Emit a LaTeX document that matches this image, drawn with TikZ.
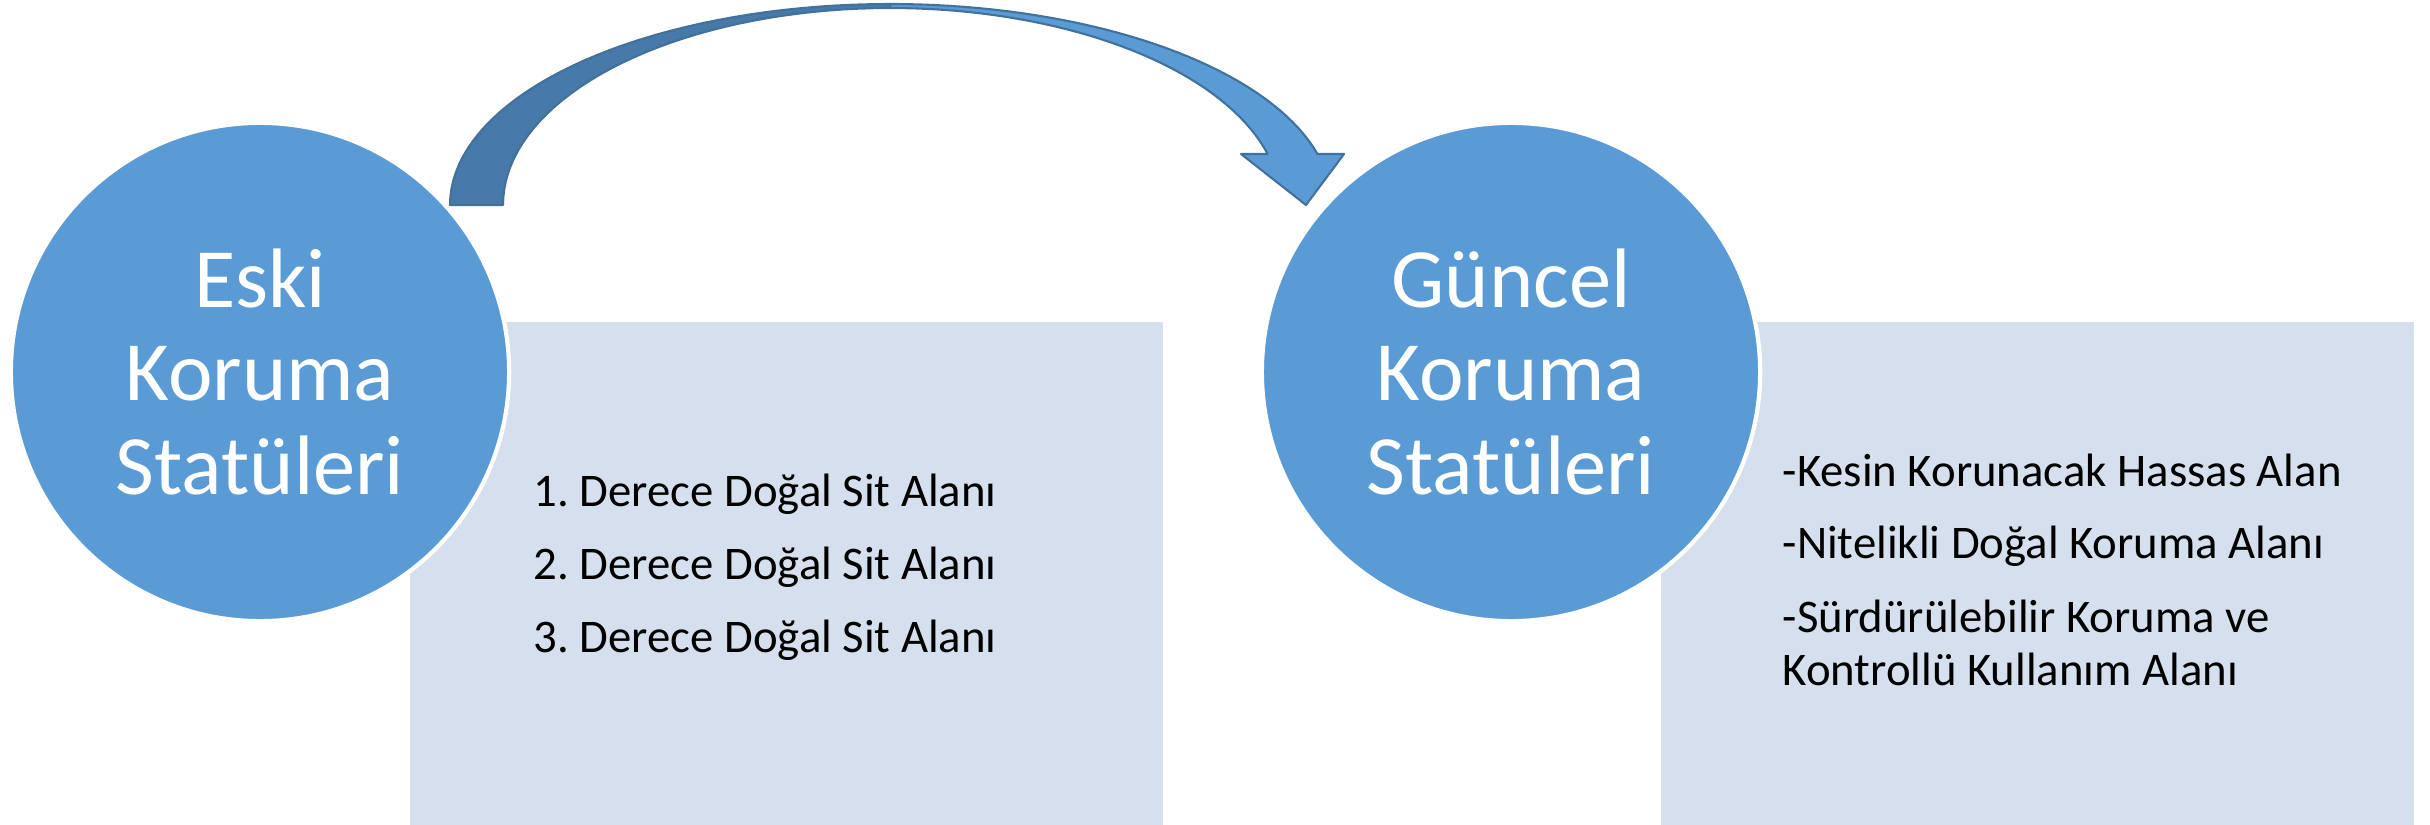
\documentclass[tikz,border=0pt]{standalone}
\usepackage{fontspec}
\setmainfont{Carlito}
\usetikzlibrary{positioning}
\definecolor{circblue}{HTML}{5B9BD5}
\definecolor{boxblue}{HTML}{D5DFED}
\definecolor{arrowdark}{HTML}{4779A9}
\definecolor{arrowline}{HTML}{41719C}
\frenchspacing

\begin{document}
\begin{tikzpicture}[
		x=0.01cm, y=-0.01cm,
		status/.style={circle, fill=circblue, draw=white, line width=1.2pt, minimum size=4.98cm, inner sep=0pt, align=center, text=white, font=\fontsize{24}{26.6}\selectfont},
		panel/.style={rectangle, fill=boxblue, draw=none, anchor=north west, minimum width=7.53cm, minimum height=5.04cm, inner sep=0pt},
		item/.style={anchor=base west, inner sep=0pt, text=black, font=\fontsize{13.3}{15.8}\selectfont},
		band/.style={draw=arrowline, line width=0.6pt, line join=round}
		]
	
		\useasboundingbox (0,0) rectangle (2430,825);
	
		% Kutular
		\node[panel] (P1) at (409,321) {};
		\node[panel] (P2) at (1660,321) {};
	
		% Daireler
		\node[status] (E) at (260,372) {Eski\\Koruma\\Statüleri};
		\node[status] (G) at (1511,372) {Güncel\\Koruma\\Statüleri};
	
		% Eski statüler
		\node[item] (E1) at (533,507) {1. Derece Doğal Sit Alanı};
		\node[item] (E2) at (533,580) {2. Derece Doğal Sit Alanı};
		\node[item] (E3) at (533,653) {3. Derece Doğal Sit Alanı};
	
		% Güncel statüler
		\node[item] (G1) at (1782,487) {-Kesin Korunacak Hassas Alan};
		\node[item] (G2) at (1782,559) {-Nitelikli Doğal Koruma Alanı};
		\node[item] (G3) at (1782,633) {-Sürdürülebilir Koruma ve};
		\node[item] (G4) at (1782,686) {Kontrollü Kullanım Alanı};
	
		% Kavisli ok
		\filldraw[band, fill=arrowdark]
			plot[domain=180:270, samples=40] ({890+440*cos(\x)}, {205+201*sin(\x)})
			-- plot[domain=270:180, samples=40] ({890+387*cos(\x)}, {205+197*sin(\x)})
			-- cycle;
		\filldraw[band, fill=circblue]
			plot[domain=270:345.3, samples=40] ({890+442*cos(\x)}, {205+201*sin(\x)})
			-- (1344,154) -- (1306,205) -- (1241,154)
			-- plot[domain=345:270, samples=40] ({890+391*cos(\x)}, {205+197*sin(\x)})
			-- cycle;
	\end{tikzpicture}
\end{document}
